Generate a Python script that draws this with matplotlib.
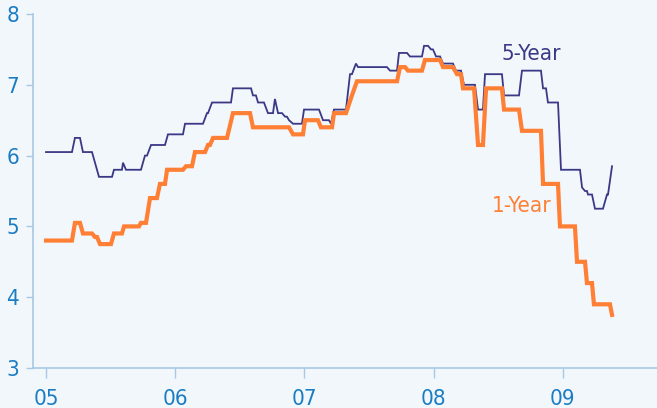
import matplotlib
matplotlib.use('Agg')
import matplotlib.pyplot as plt

# 5-year and 1-year rates, decimal years (2005.0 = Jan 05)
t5 = [2005.000, 2005.201, 2005.224, 2005.263, 2005.286, 2005.356, 2005.410, 2005.511,
      2005.526, 2005.588, 2005.596, 2005.619, 2005.735, 2005.766, 2005.782, 2005.813,
      2005.921, 2005.944, 2006.060, 2006.076, 2006.215, 2006.246, 2006.254, 2006.285,
      2006.432, 2006.447, 2006.587, 2006.602, 2006.625, 2006.641, 2006.687, 2006.718,
      2006.757, 2006.772, 2006.796, 2006.827, 2006.850, 2006.865, 2006.881, 2006.912,
      2006.981, 2006.997, 2007.113, 2007.144, 2007.190, 2007.206, 2007.229, 2007.322,
      2007.353, 2007.368, 2007.399, 2007.415, 2007.639, 2007.663, 2007.717, 2007.732,
      2007.794, 2007.817, 2007.910, 2007.926, 2007.957, 2007.980, 2007.995, 2008.019,
      2008.050, 2008.073, 2008.150, 2008.173, 2008.212, 2008.235, 2008.320, 2008.344,
      2008.382, 2008.398, 2008.529, 2008.545, 2008.661, 2008.684, 2008.831, 2008.847,
      2008.870, 2008.885, 2008.963, 2008.986, 2009.133, 2009.149, 2009.172, 2009.187,
      2009.195, 2009.226, 2009.249, 2009.311, 2009.342, 2009.350, 2009.381]
v5 = [6.05, 6.05, 6.25, 6.25, 6.05, 6.05, 5.70, 5.70,
      5.80, 5.80, 5.90, 5.80, 5.80, 6.00, 6.00, 6.15,
      6.15, 6.30, 6.30, 6.45, 6.45, 6.60, 6.60, 6.75,
      6.75, 6.95, 6.95, 6.85, 6.85, 6.75, 6.75, 6.60,
      6.60, 6.80, 6.60, 6.60, 6.55, 6.55, 6.50, 6.45,
      6.45, 6.65, 6.65, 6.50, 6.50, 6.45, 6.65, 6.65,
      7.15, 7.15, 7.30, 7.25, 7.25, 7.20, 7.20, 7.45,
      7.45, 7.40, 7.40, 7.55, 7.55, 7.50, 7.50, 7.40,
      7.40, 7.30, 7.30, 7.20, 7.20, 7.00, 7.00, 6.65,
      6.65, 7.15, 7.15, 6.85, 6.85, 7.20, 7.20, 6.95,
      6.95, 6.75, 6.75, 5.80, 5.80, 5.55, 5.50, 5.50,
      5.45, 5.45, 5.25, 5.25, 5.45, 5.45, 5.85]

t1 = [2005.000, 2005.201, 2005.224, 2005.263, 2005.286, 2005.356, 2005.379, 2005.395,
      2005.418, 2005.503, 2005.526, 2005.588, 2005.604, 2005.720, 2005.735, 2005.774,
      2005.805, 2005.859, 2005.882, 2005.921, 2005.937, 2006.060, 2006.084, 2006.130,
      2006.153, 2006.231, 2006.254, 2006.269, 2006.293, 2006.401, 2006.447, 2006.579,
      2006.602, 2006.881, 2006.912, 2006.989, 2007.005, 2007.105, 2007.128, 2007.214,
      2007.229, 2007.322, 2007.368, 2007.407, 2007.717, 2007.740, 2007.779, 2007.802,
      2007.910, 2007.933, 2008.050, 2008.073, 2008.150, 2008.181, 2008.212, 2008.228,
      2008.313, 2008.344, 2008.382, 2008.406, 2008.529, 2008.545, 2008.661, 2008.684,
      2008.831, 2008.847, 2008.963, 2008.978, 2009.094, 2009.110, 2009.172, 2009.187,
      2009.226, 2009.241, 2009.365, 2009.381]
v1 = [4.80, 4.80, 5.05, 5.05, 4.90, 4.90, 4.85, 4.85,
      4.75, 4.75, 4.90, 4.90, 5.00, 5.00, 5.05, 5.05,
      5.40, 5.40, 5.60, 5.60, 5.80, 5.80, 5.85, 5.85,
      6.05, 6.05, 6.15, 6.15, 6.25, 6.25, 6.60, 6.60,
      6.40, 6.40, 6.30, 6.30, 6.50, 6.50, 6.40, 6.40,
      6.60, 6.60, 6.85, 7.05, 7.05, 7.25, 7.25, 7.20,
      7.20, 7.35, 7.35, 7.25, 7.25, 7.15, 7.15, 6.95,
      6.95, 6.15, 6.15, 6.95, 6.95, 6.65, 6.65, 6.35,
      6.35, 5.60, 5.60, 5.00, 5.00, 4.50, 4.50, 4.20,
      4.20, 3.90, 3.90, 3.75]

year_ticks = [2005, 2006, 2007, 2008, 2009]
year_labels = ['05', '06', '07', '08', '09']
rate_ticks = [3, 4, 5, 6, 7, 8]

BG = '#f2f7fc'
TICK_TXT = '#1a7dc4'
SPINE = '#a9c8e6'
BLUE = '#3b3886'
ORANGE = '#ff7f35'
FONT = dict(family='DejaVu Sans', stretch='condensed')

fig = plt.figure(figsize=(6.57, 4.08), dpi=100, facecolor=BG)
ax = fig.add_axes([33 / 657, 40 / 408, 1 - 33 / 657, 354 / 408])
ax.set_facecolor(BG)

ax.plot(t5, v5, color=BLUE, lw=1.3, solid_joinstyle='miter')
ax.plot(t1, v1, color=ORANGE, lw=3.0, solid_joinstyle='miter')

ax.text(2008.754, 7.435, '5-Year', color=BLUE, fontsize=16,
        ha='center', va='center', **FONT)
ax.text(2008.684, 5.288, '1-Year', color=ORANGE, fontsize=16,
        ha='center', va='center', **FONT)

ax.set_xlim(2005 - 13 / 129.2, 2005 + 611 / 129.2)
ax.set_ylim(3, 8)
ax.set_xticks(year_ticks)
ax.set_xticklabels(year_labels)
ax.set_yticks(rate_ticks)

for s in ['top', 'right']:
    ax.spines[s].set_visible(False)
for s in ['left', 'bottom']:
    ax.spines[s].set_color(SPINE)
    ax.spines[s].set_linewidth(1.2)

ax.tick_params(axis='both', colors=SPINE, labelcolor=TICK_TXT, labelsize=16,
               width=1.0, direction='out')
ax.tick_params(axis='y', length=5, pad=5)
ax.tick_params(axis='x', length=7, pad=8)
for lab in ax.get_xticklabels() + ax.get_yticklabels():
    lab.set_family(FONT['family'])
    lab.set_stretch(FONT['stretch'])

fig.savefig('out.png', dpi=100, facecolor=BG)
